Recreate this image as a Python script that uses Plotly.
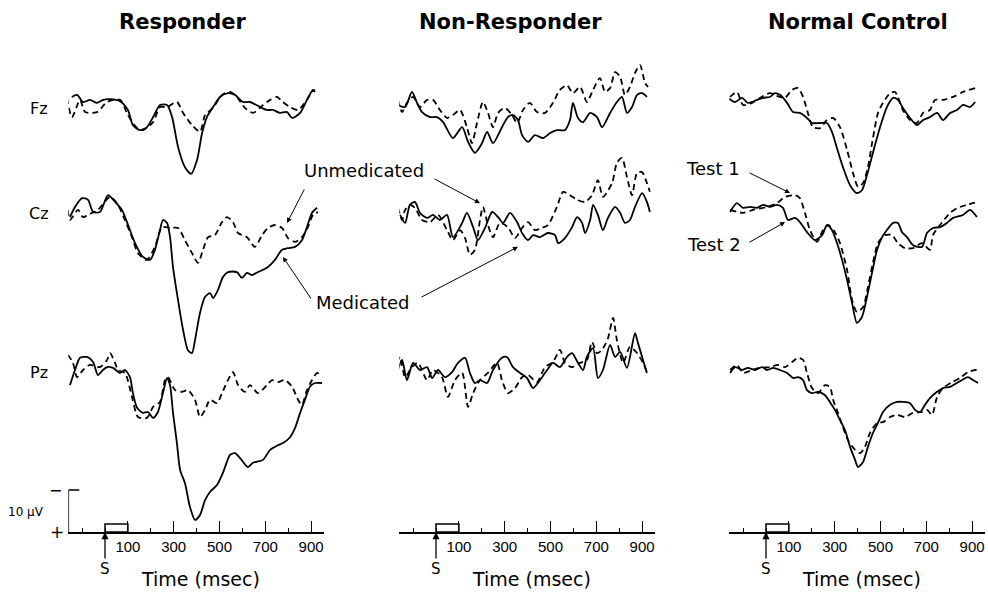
import plotly.graph_objects as go

# --- waveform data: time (ms) and amplitude (uV, positive = down) -----------------
# Responder, Fz
resp_fz_med_t = [-145, -122, -96, -66, -35, -9, 22, 66, 100, 122, 153, 183, 210, 240, 271, 293, 319, 349, 376, 402,
                 424, 445, 472, 502, 537, 568, 603, 633, 677, 707, 734, 764, 795, 817, 852, 882, 908, 917]
resp_fz_med_v = [-1.2, -1.7, 0, -0.5, 0.2, -0.5, -0.7, -0.2, 1.9, 5.5, 6.7, 6.0, 3.6, 0.7, 0.7, 3.6, 10.7, 15.5, 17.1, 13.8,
                 7.4, 3.6, 1.2, -1.2, -2.1, -1.7, 0, 0, 1.2, 1.9, 1.9, 2.6, 2.4, 3.8, 2.6, -0.5, -2.9, -2.4]
resp_fz_unm_t = [-166, -144, -109, -87, -35, 9, 66, 100, 140, 166, 210, 240, 271, 314, 341, 380, 415, 437, 472, 511,
                 546, 576, 611, 646, 690, 721, 751, 777, 808, 843, 873, 904, 917]
resp_fz_unm_v = [-1.0, 3.6, -0.5, 2.4, 2.4, 0, -0.5, 3.1, 6.2, 6.7, 4.8, 1.2, 1.2, 0, 2.6, 5.5, 7.1, 3.1, 1.4, -1.7,
                 -2.4, -1.2, 1.4, 2.6, 0.7, -0.5, -1.2, 0, 1.2, 1.9, 0.2, -2.4, -2.9]
# Responder, Cz
resp_cz_med_t = [-153, -131, -100, -74, -52, -22, 13, 44, 74, 96, 131, 166, 197, 218, 240, 253, 271, 284, 297, 319,
                 341, 362, 380, 393, 415, 437, 459, 472, 493, 515, 537, 576, 598, 620, 642, 668, 707, 742, 773, 799,
                 830, 860, 882, 904, 926]
resp_cz_med_v = [1.2, -1.2, -3.3, -2.9, 0, 0, -4.0, -2.4, -0.5, 2.4, 7.4, 10.7, 11.4, 9.0, 4.3, 1.9, 2.6, 6.0, 13.1, 21.0,
                 28.1, 32.9, 33.6, 30.5, 24.0, 20.2, 19.3, 20.5, 18.6, 15.5, 14.3, 14.3, 15.7, 14.5, 15.0, 14.3, 13.3, 11.4, 9.0, 8.6,
                 8.3, 6.7, 3.6, 0.2, -1.0]
resp_cz_unm_t = [-162, -153, -118, -96, -57, -31, 22, 57, 87, 118, 144, 183, 218, 249, 284, 319, 349, 380, 406, 428,
                 450, 480, 511, 533, 559, 581, 620, 655, 686, 712, 742, 773, 799, 830, 860, 886, 908, 930]
resp_cz_unm_v = [-0.5, 1.9, -0.5, 1.2, 0.2, -0.5, -3.6, -1.7, 1.9, 6.0, 9.8, 11.4, 8.3, 3.6, 3.8, 3.8, 6.7, 9.8, 12.1, 9.0,
                 6.0, 5.5, 2.4, 1.2, 2.4, 5.0, 6.0, 8.3, 5.5, 3.8, 3.1, 3.8, 6.2, 7.1, 6.0, 3.6, 0.7, 0]
# Responder, Pz
resp_pz_med_t = [-153, -131, -109, -79, -52, -31, -9, 9, 35, 66, 87, 109, 122, 140, 166, 188, 210, 231, 253, 271,
                 284, 297, 314, 328, 349, 371, 393, 415, 437, 459, 489, 515, 546, 568, 590, 624, 646, 690, 721, 755,
                 777, 808, 830, 852, 873, 895, 917, 948]
resp_pz_med_v = [3.6, 0, -2.9, -3.1, -1.9, 1.2, 0, -0.7, -0.5, 0.7, 0, 1.7, 5.5, 9.0, 10.2, 10.0, 11.4, 10.0, 5.5, 1.9,
                 3.6, 10.2, 17.4, 23.8, 26.9, 32.6, 35.7, 34.5, 31.0, 29.0, 27.4, 24.5, 20.2, 19.8, 21.0, 23.1, 22.1, 21.4, 19.0, 17.9,
                 17.4, 16.0, 13.8, 10.2, 7.1, 4.0, 3.1, 3.1]
resp_pz_unm_t = [-162, -140, -122, -96, -66, -22, 9, 22, 44, 57, 87, 118, 144, 183, 210, 240, 262, 275, 306, 336,
                 362, 393, 415, 437, 459, 489, 511, 537, 559, 581, 611, 633, 668, 707, 729, 755, 786, 817, 843, 860,
                 882, 904, 926, 939]
resp_pz_unm_v = [-3.6, -1.7, 1.7, 0, -1.2, -0.7, -2.4, -4.0, -1.7, 0, 0.7, 6.4, 11.2, 11.4, 8.8, 7.6, 2.4, 1.7, 4.8, 5.2,
                 4.8, 7.1, 11.2, 9.5, 7.1, 7.9, 5.5, 2.4, 0.5, 3.6, 5.2, 3.6, 5.5, 3.6, 2.4, 2.9, 2.4, 4.0, 7.1, 8.3,
                 4.8, 2.4, 0.7, 1.2]

# Non-Responder, Fz
nr_fz_med_t = [-166, -135, -105, -83, -61, -26, 4, 31, 74, 114, 140, 170, 201, 223, 249, 288, 314, 336, 358, 376,
               402, 432, 467, 498, 528, 563, 585, 598, 620, 642, 673, 703, 725, 760, 790, 812, 834, 856, 878, 900, 921]
nr_fz_med_v = [0.7, 1.2, -2.4, 0.2, 2.4, 3.6, 3.6, 4.8, 8.6, 6.0, 9.5, 12.1, 9.8, 7.1, 9.8, 6.0, 3.6, 3.1, 4.3, 7.9,
               9.5, 7.9, 8.6, 7.4, 6.7, 6.7, 4.3, 0.2, 3.8, 4.8, 2.6, 3.6, 6.0, 2.6, 0, -1.2, 2.6, 1.2, -1.7, -2.1, -1.2]
nr_fz_unm_t = [-166, -148, -127, -100, -70, -39, -13, 17, 48, 74, 105, 135, 157, 179, 205, 227, 249, 271, 301, 332,
               354, 380, 410, 441, 476, 511, 541, 572, 598, 629, 659, 686, 716, 738, 760, 782, 804, 825, 847, 869,
               891, 913, 926]
nr_fz_unm_v = [-0.5, 2.4, 0.2, -1.2, 1.2, -0.5, -0.5, 1.9, 3.8, 3.1, 1.9, 6.0, 9.8, 5.0, 0, 2.6, 6.0, 2.6, 1.4, 3.1,
               5.0, 1.9, 0.2, 2.4, 2.6, 0.2, -2.9, -4.0, -2.1, -3.6, 0, -2.9, -5.7, -2.4, -3.3, -7.1, -6.0, -1.7, -3.6, -6.9,
               -8.8, -4.5, -3.6]
# Non-Responder, Cz
nr_cz_med_t = [-157, -135, -114, -92, -70, -39, -13, 17, 48, 74, 114, 135, 162, 183, 214, 245, 271, 293, 323, 354,
               376, 402, 424, 454, 489, 520, 533, 563, 594, 616, 638, 651, 673, 686, 707, 729, 751, 782, 804, 825,
               847, 869, 900, 921, 934]
nr_cz_med_v = [0.7, 2.6, -1.7, -2.4, 0.2, 1.4, 0.7, 1.9, 0.7, 6.0, 2.6, 0.2, 3.6, 6.7, 3.8, 0, 1.2, 2.6, 0.2, 2.4,
               5.0, 6.7, 5.5, 6.0, 5.0, 5.5, 7.4, 6.2, 3.6, 1.2, 2.6, 5.0, 1.9, -1.7, 0.7, 4.3, 1.4, -1.2, 0.2, 2.6,
               1.9, -1.2, -4.5, -2.4, 0]
nr_cz_unm_t = [-166, -148, -135, -114, -92, -61, -26, 9, 48, 74, 105, 127, 148, 170, 192, 205, 227, 249, 279, 314,
               345, 376, 402, 432, 463, 489, 528, 555, 585, 616, 651, 681, 707, 729, 769, 790, 812, 834, 856, 878,
               900, 921, 934]
nr_cz_unm_v = [-1.0, 1.9, -0.5, -1.7, -1.0, 1.9, 2.4, 0.7, 4.3, 6.7, 4.3, 6.2, 10.2, 9.0, 1.9, -1.2, 3.1, 6.0, 2.6, 3.6,
               6.2, 3.8, 2.4, 4.3, 3.8, 3.1, -1.2, -4.8, -4.0, -2.9, -2.4, -4.0, -7.6, -3.6, -6.9, -11.7, -12.9, -8.3, -4.0, -9.3,
               -9.5, -6.9, -4.8]
# Non-Responder, Pz
nr_pz_med_t = [-170, -148, -127, -100, -70, -39, -17, 9, 39, 70, 96, 127, 148, 170, 192, 223, 249, 288, 310, 336,
               367, 397, 424, 454, 485, 511, 541, 572, 594, 620, 642, 659, 686, 707, 729, 760, 782, 804, 834, 869,
               882, 904, 921]
nr_pz_med_v = [0.7, -2.4, 2.4, -1.7, 0, -0.7, 1.9, 0, 1.7, 0.5, -1.7, -2.9, 0.7, 3.1, 2.4, 3.1, 0, -2.9, -3.1, -0.7,
               0.7, 1.9, 4.3, 2.4, 0, -1.7, -0.7, -3.1, -4.0, -1.7, 0, -3.1, -5.2, 1.9, 0, -6.0, -3.1, -4.3, -0.5, -8.8,
               -6.4, -2.4, 0.7]
nr_pz_unm_t = [-170, -157, -135, -105, -79, -39, -13, 26, 52, 83, 114, 140, 162, 192, 227, 266, 288, 314, 345, 376,
               402, 441, 476, 511, 541, 563, 594, 629, 659, 681, 703, 725, 751, 773, 790, 817, 847, 878, 904, 921]
nr_pz_unm_v = [-1.7, -3.1, 1.7, -0.7, -1.7, 2.4, 0, 1.7, 6.4, 2.4, 0.7, 8.8, 5.5, 2.4, 0.7, -1.7, 2.4, 5.5, 4.3, 1.7,
               1.2, 2.9, -0.7, -1.9, -4.8, -1.7, -0.7, -1.7, -2.4, -6.7, -4.0, -4.8, -7.6, -12.4, -7.1, -1.7, -5.5, -4.0, -1.7, 0.5]

# Normal Control, Fz (test 2 = solid, test 1 = dashed)
nc_fz_t2_t = [-166, -135, -105, -79, -39, -13, 17, 39, 61, 92, 118, 148, 179, 201, 236, 266, 288, 310, 336, 367,
              397, 419, 441, 467, 498, 528, 555, 576, 598, 629, 659, 686, 716, 747, 773, 804, 834, 860, 891, 913]
nc_fz_t2_v = [-1.0, 0, -1.0, 0.2, -0.5, -1.0, -1.2, -2.1, -1.7, 0.2, 2.4, 2.6, 3.8, 5.0, 5.0, 5.0, 7.1, 11.0, 15.5, 19.8,
              21.7, 21.0, 17.4, 12.1, 6.0, 1.2, -1.0, -0.5, 1.4, 3.8, 5.5, 4.3, 3.6, 2.6, 4.3, 2.6, 1.9, 0.7, 1.2, 0]
nc_fz_t1_t = [-157, -127, -100, -61, -26, 17, 61, 83, 114, 140, 162, 183, 205, 236, 266, 293, 323, 354, 380, 402,
              424, 445, 467, 489, 511, 542, 563, 576, 598, 629, 659, 686, 716, 738, 773, 817, 860, 913]
nc_fz_t1_v = [-1.2, -2.4, 0.7, 0.2, -1.0, -2.1, -1.2, -1.0, -2.9, -3.3, -1.2, 2.6, 6.0, 6.2, 4.3, 3.8, 6.0, 11.4, 16.9, 20.2,
              19.3, 15.5, 8.6, 2.6, 0.2, -2.1, -2.4, -1.2, 1.9, 4.3, 5.0, 2.6, 1.9, -0.5, -0.5, -1.2, -2.4, -3.3]
# Normal Control, Cz
nc_cz_t2_t = [-157, -127, -100, -70, -39, -13, 17, 48, 74, 96, 127, 148, 179, 214, 245, 266, 288, 310, 332, 354,
              376, 397, 419, 441, 463, 485, 507, 528, 555, 576, 594, 616, 642, 681, 703, 729, 760, 790, 817, 860,
              891, 921]
nc_cz_t2_v = [0, -2.1, -1.0, -1.2, -1.0, -1.7, -1.2, -1.7, -1.0, 1.9, 1.4, 2.4, 4.8, 6.7, 5.5, 3.1, 4.3, 7.4, 11.4, 16.2,
              21.7, 26.4, 25.0, 20.2, 14.5, 9.0, 6.0, 4.3, 2.6, 2.6, 4.8, 6.0, 7.9, 8.3, 5.0, 3.8, 3.6, 2.6, 1.4, 0.7,
              -0.5, 1.2]
nc_cz_t1_t = [-157, -100, -57, 4, 48, 83, 127, 148, 170, 192, 223, 249, 271, 301, 323, 354, 376, 397, 424, 445,
              467, 489, 520, 550, 576, 607, 642, 681, 716, 729, 760, 804, 838, 878, 926]
nc_cz_t1_v = [-0.5, 0.2, -0.5, -1.2, -2.1, -3.6, -4.0, -3.3, 0.2, 4.3, 7.1, 4.3, 3.1, 4.8, 7.4, 13.8, 21.0, 23.8, 22.6, 17.9,
              12.1, 7.4, 5.5, 5.5, 7.4, 8.6, 8.6, 7.4, 9.0, 5.5, 3.1, 0.2, -1.0, -1.7, -2.4]
# Normal Control, Pz
nc_pz_t2_t = [-157, -135, -105, -79, -48, -17, 4, 31, 61, 92, 118, 140, 162, 179, 201, 227, 258, 279, 301, 323,
              345, 367, 389, 402, 424, 445, 467, 489, 511, 542, 572, 598, 629, 651, 673, 694, 716, 747, 773, 804,
              834, 856, 882, 904, 926]
nc_pz_t2_v = [0.7, -0.7, 0, -0.5, 0, -0.7, 0, -0.5, 0, 0.7, 1.9, 1.7, 2.4, 4.8, 5.5, 5.2, 6.0, 7.6, 9.5, 11.9,
              14.3, 18.3, 21.4, 23.1, 21.9, 18.3, 15.0, 12.6, 10.0, 8.3, 7.6, 7.6, 7.9, 9.5, 10.0, 8.3, 6.7, 5.2, 4.3, 4.0,
              3.1, 2.4, 1.7, 2.4, 3.1]
nc_pz_t1_t = [-157, -127, -100, -61, -26, 17, 52, 83, 114, 140, 162, 179, 201, 227, 258, 279, 293, 314, 336, 358,
              389, 410, 432, 454, 485, 511, 542, 572, 607, 642, 681, 703, 725, 747, 773, 812, 847, 882, 913, 934]
nc_pz_t1_v = [0, -1.2, 0.7, 0, -0.5, -0.7, -1.2, -0.7, -1.9, -2.9, -2.4, 0.7, 4.3, 5.5, 3.6, 4.0, 7.1, 10.2, 13.6, 16.7,
              19.0, 19.8, 18.3, 15.0, 12.6, 12.4, 11.2, 10.7, 11.2, 10.2, 10.0, 9.5, 10.7, 6.4, 4.3, 2.9, 1.9, 0.5, 0, 0]

groups = ["Responder", "Non-Responder", "Normal Control"]
channels = ["Fz", "Cz", "Pz"]
tick_vals = [100, 300, 500, 700, 900]
stim_ms = 100
cal_uv = 10

# (column, row, times, values, dashed)
traces = [
    (0, 0, resp_fz_unm_t, resp_fz_unm_v, True), (0, 0, resp_fz_med_t, resp_fz_med_v, False),
    (0, 1, resp_cz_unm_t, resp_cz_unm_v, True), (0, 1, resp_cz_med_t, resp_cz_med_v, False),
    (0, 2, resp_pz_unm_t, resp_pz_unm_v, True), (0, 2, resp_pz_med_t, resp_pz_med_v, False),
    (1, 0, nr_fz_unm_t, nr_fz_unm_v, True), (1, 0, nr_fz_med_t, nr_fz_med_v, False),
    (1, 1, nr_cz_unm_t, nr_cz_unm_v, True), (1, 1, nr_cz_med_t, nr_cz_med_v, False),
    (1, 2, nr_pz_unm_t, nr_pz_unm_v, True), (1, 2, nr_pz_med_t, nr_pz_med_v, False),
    (2, 0, nc_fz_t1_t, nc_fz_t1_v, True), (2, 0, nc_fz_t2_t, nc_fz_t2_v, False),
    (2, 1, nc_cz_t1_t, nc_cz_t1_v, True), (2, 1, nc_cz_t2_t, nc_cz_t2_v, False),
    (2, 2, nc_pz_t1_t, nc_pz_t1_v, True), (2, 2, nc_pz_t2_t, nc_pz_t2_v, False),
]

# --- page geometry (pixels) ---
W, H = 988, 594
PX_PER_MS = 0.229
PX_PER_UV = 4.2
T_RANGE = [-160, 955]
COL_ZERO_PX = [105, 436, 766]
ROW_BASE_PX = [102, 212, 370]
ROW_SPAN_PX = [(45, 215), (135, 385), (295, 532)]

TEXT = "DejaVu Sans"
TICK = "Liberation Sans"


def px(x):
    return x / W


def py(y):
    return 1 - y / H


def xname(c):
    return "x" if c == 0 else f"x{c + 1}"


def yname(c, r):
    i = c * 3 + r + 1
    return "y" if i == 1 else f"y{i}"


def yrange(r):
    top, bot = ROW_SPAN_PX[r]
    base = ROW_BASE_PX[r]
    return [(bot - base) / PX_PER_UV, (top - base) / PX_PER_UV]


def label(x, y, text, size, **kw):
    return dict(xref="paper", yref="paper", x=px(x), y=py(y), text=text, showarrow=False,
                xanchor="center", yanchor="middle",
                font=dict(family=TEXT, size=size, color="black"), **kw)


fig = go.Figure()
for c, r, t, v, dashed in traces:
    fig.add_trace(go.Scatter(
        x=t, y=v, mode="lines",
        line=dict(color="black", width=1.8, dash="6px,4px" if dashed else "solid",
                  shape="spline", smoothing=0.7),
        xaxis=xname(c), yaxis=yname(c, r),
        hoverinfo="skip", showlegend=False,
    ))

layout = {}
for c in range(3):
    left = px(COL_ZERO_PX[c] + PX_PER_MS * T_RANGE[0])
    right = px(COL_ZERO_PX[c] + PX_PER_MS * T_RANGE[1])
    layout["xaxis" if c == 0 else f"xaxis{c + 1}"] = dict(
        domain=[left, right], range=T_RANGE, anchor=yname(c, 2),
        showline=True, linecolor="black", linewidth=1.5,
        ticks="inside", ticklen=11, tickwidth=1, tickcolor="black",
        tickvals=tick_vals, ticktext=[str(v) for v in tick_vals],
        tickfont=dict(family=TICK, size=15, color="black"),
        minor=dict(ticks="inside", ticklen=4, tickwidth=1, tickcolor="black", dtick=100, tick0=0),
        showgrid=False, zeroline=False, fixedrange=True,
    )
    for r in range(3):
        top, bot = ROW_SPAN_PX[r]
        i = c * 3 + r + 1
        layout["yaxis" if i == 1 else f"yaxis{i}"] = dict(
            domain=[py(bot), py(top)], range=yrange(r), anchor=xname(c),
            visible=False, fixedrange=True,
        )

shapes = []
annotations = []
y_axis_floor = yrange(2)[0]

for c in range(3):
    # stimulus box
    shapes.append(dict(type="rect", xref=xname(c), yref=yname(c, 2),
                       x0=0, x1=stim_ms, y0=y_axis_floor, y1=y_axis_floor - 1.9,
                       line=dict(color="black", width=1.5)))
    # stimulus onset arrow
    annotations.append(dict(xref=xname(c), yref=yname(c, 2), x=0, y=y_axis_floor,
                            text="S", showarrow=True, arrowhead=2, arrowsize=1.1, arrowwidth=1.3,
                            arrowcolor="black", ax=0, ay=37, standoff=0,
                            font=dict(family=TEXT, size=15, color="black")))
    annotations.append(label(COL_ZERO_PX[c] + 95, 579, "Time (msec)", 19))

title_x = [183, 510, 858]
for c, g in enumerate(groups):
    annotations.append(label(title_x[c], 22, f"<b>{g}</b>", 21))

label_y = [108, 213, 372]
for r, ch in enumerate(channels):
    annotations.append(label(39, label_y[r], ch, 16))

# calibration bar (10 uV) on the responder panel
shapes.append(dict(type="line", xref="x", yref=yname(0, 2),
                   x0=T_RANGE[0], x1=T_RANGE[0], y0=y_axis_floor, y1=y_axis_floor - cal_uv,
                   line=dict(color="black", width=1.5)))
shapes.append(dict(type="line", xref="x", yref=yname(0, 2),
                   x0=T_RANGE[0], x1=T_RANGE[0] + 48, y0=y_axis_floor - cal_uv, y1=y_axis_floor - cal_uv,
                   line=dict(color="black", width=1.5)))
annotations += [
    label(26, 512, "10 µV", 12),
    label(55, 490, "\u2212", 16),
    label(57, 532, "+", 17),
]

# condition labels
annotations += [
    label(364, 171, "Unmedicated", 18),
    label(363, 302, "Medicated", 18),
    label(713, 168, "Test 1", 18),
    label(714, 245, "Test 2", 18),
]
pointers = [  # (column, row, head time, head uV, tail dx, tail dy)
    (0, 1, 795, 2.6, 18, -35),
    (1, 1, 192, -2.1, -47, -25),
    (0, 1, 777, 10.7, 29, 43),
    (1, 1, 358, 8.3, -98, 51),
    (2, 1, 105, -4.5, -42, -21),
    (2, 1, 83, 2.4, -37, 21),
]
for c, r, t, v, dx, dy in pointers:
    annotations.append(dict(xref=xname(c), yref=yname(c, r), x=t, y=v, text="",
                            showarrow=True, arrowhead=2, arrowsize=1, arrowwidth=1,
                            arrowcolor="black", ax=dx, ay=dy, standoff=0))

fig.update_layout(
    **layout,
    shapes=shapes,
    annotations=annotations,
    width=W, height=H,
    margin=dict(l=0, r=0, t=0, b=0),
    paper_bgcolor="white",
    plot_bgcolor="rgba(0,0,0,0)",
    showlegend=False,
)

# drop the default page margin so the figure sits at the window's corner
fig.write_html("out.html", config={"displayModeBar": False},
               post_script="document.body.style.margin = '0px';")
